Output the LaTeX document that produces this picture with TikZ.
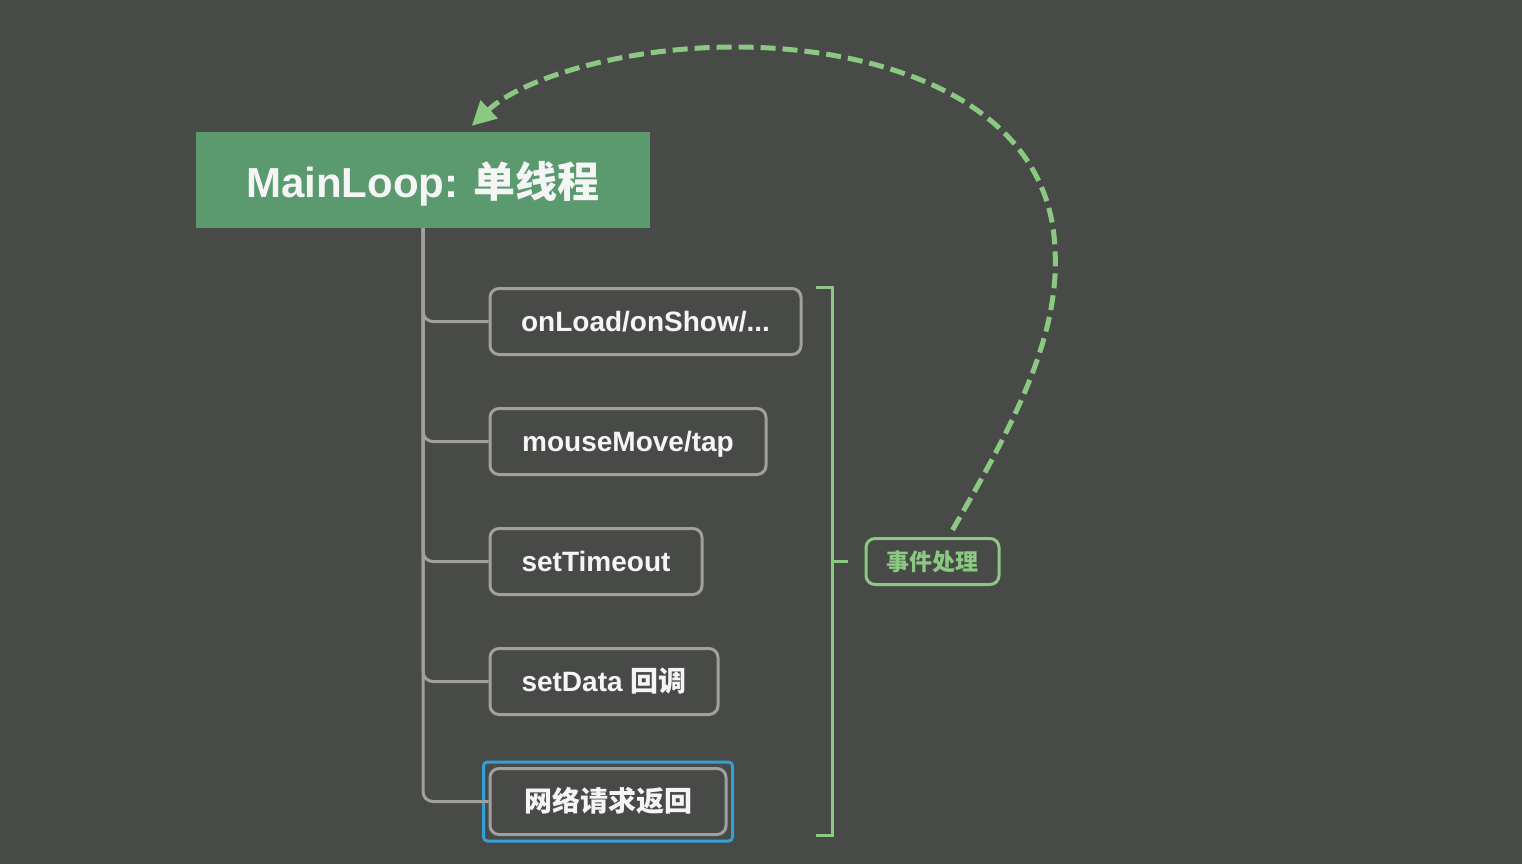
\documentclass[tikz,border=0pt]{standalone}
\usepackage{fontspec}
\setmainfont{Liberation Sans}
\newfontfamily\cjk{Noto Sans CJK SC}
\usetikzlibrary{arrows.meta}
\definecolor{bg}{RGB}{72,74,71}
\definecolor{mgreen}{RGB}{90,154,110}
\definecolor{lgreen}{RGB}{139,200,130}
\definecolor{lgray}{RGB}{160,160,158}
\definecolor{hblue}{RGB}{52,160,214}
\definecolor{wtext}{RGB}{245,245,245}
\begin{document}
\begin{tikzpicture}[x=1pt,y=-1pt,
  mainbox/.style={fill=mgreen, text=wtext, font=\bfseries\fontsize{42}{48}\selectfont, minimum width=454pt, minimum height=96pt, inner sep=0pt, text height=40pt, text depth=6pt},
  item/.style={draw=lgray, line width=3pt, rounded corners=9pt, fill=bg, text=wtext, font=\bfseries\fontsize{28}{32}\selectfont, minimum height=66pt, inner sep=0pt, anchor=west, text height=24pt, text depth=4pt},
  evbox/.style={draw=lgreen, line width=3pt, rounded corners=9pt, text=lgreen, font=\cjk\bfseries\fontsize{23}{27}\selectfont, minimum width=133pt, minimum height=46pt, inner sep=0pt, text height=20pt, text depth=2.6pt},
  tree/.style={draw=lgray, line width=3pt, rounded corners=10pt},
  brk/.style={draw=lgreen, line width=3pt},
  hilite/.style={draw=hblue, line width=3pt, rounded corners=4pt},
  loop/.style={draw=lgreen, line width=5pt, dash pattern=on 15pt off 7pt, -{Triangle[length=24pt,width=24pt]}}
]
\fill[bg] (0,0) rectangle (1522,864);
\useasboundingbox (0,0) rectangle (1522,864);

\node[mainbox] (main) at (423,180) {MainLoop: {\cjk\bfseries 单线程}};

\node[item, minimum width=311pt] (c1) at (488.5,321.5) {onLoad/onShow/...};
\node[item, minimum width=276pt] (c2) at (488.5,441.5) {mouseMove/tap};
\node[item, minimum width=212pt] (c3) at (488.5,561.5) {setTimeout};
\node[item, minimum width=228pt] (c4) at (488.5,681.5) {setData {\cjk\bfseries 回调}};
\node[item, minimum width=236pt] (c5) at (488.5,801.5) {{\cjk\bfseries 网络请求返回}};
\draw[hilite] ([xshift=-5pt,yshift=-5pt]c5.south west) rectangle ([xshift=5pt,yshift=5pt]c5.north east);

\foreach \c in {c1,c2,c3,c4,c5}{
  \draw[tree] (main.south) |- (\c.west);
}

\coordinate (bt1) at (816,287);
\coordinate (bt2) at (832,287);
\coordinate (bb2) at (832,835);
\coordinate (bb1) at (816,835);
\coordinate (bm) at (832,561.5);
\draw[brk] (bt1) -- (bt2) -- (bb2) -- (bb1);

\node[evbox] (ev) at (932.5,561.5) {事件处理};
\draw[brk] (bm) -- ([xshift=-17pt]ev.west);

\coordinate (as) at ([xshift=20pt,yshift=7pt]ev.north);
\coordinate (mid1) at (1055,250);
\coordinate (mid2) at (735,47);
\coordinate (at) at ([xshift=276pt,yshift=6pt]main.north west);
\draw[loop] (as) .. controls (1010,430) and (1060,340) .. (mid1)
  .. controls (1050,100) and (880,47) .. (mid2)
  .. controls (620,47) and (520,80) .. (at);
\end{tikzpicture}
\end{document}
